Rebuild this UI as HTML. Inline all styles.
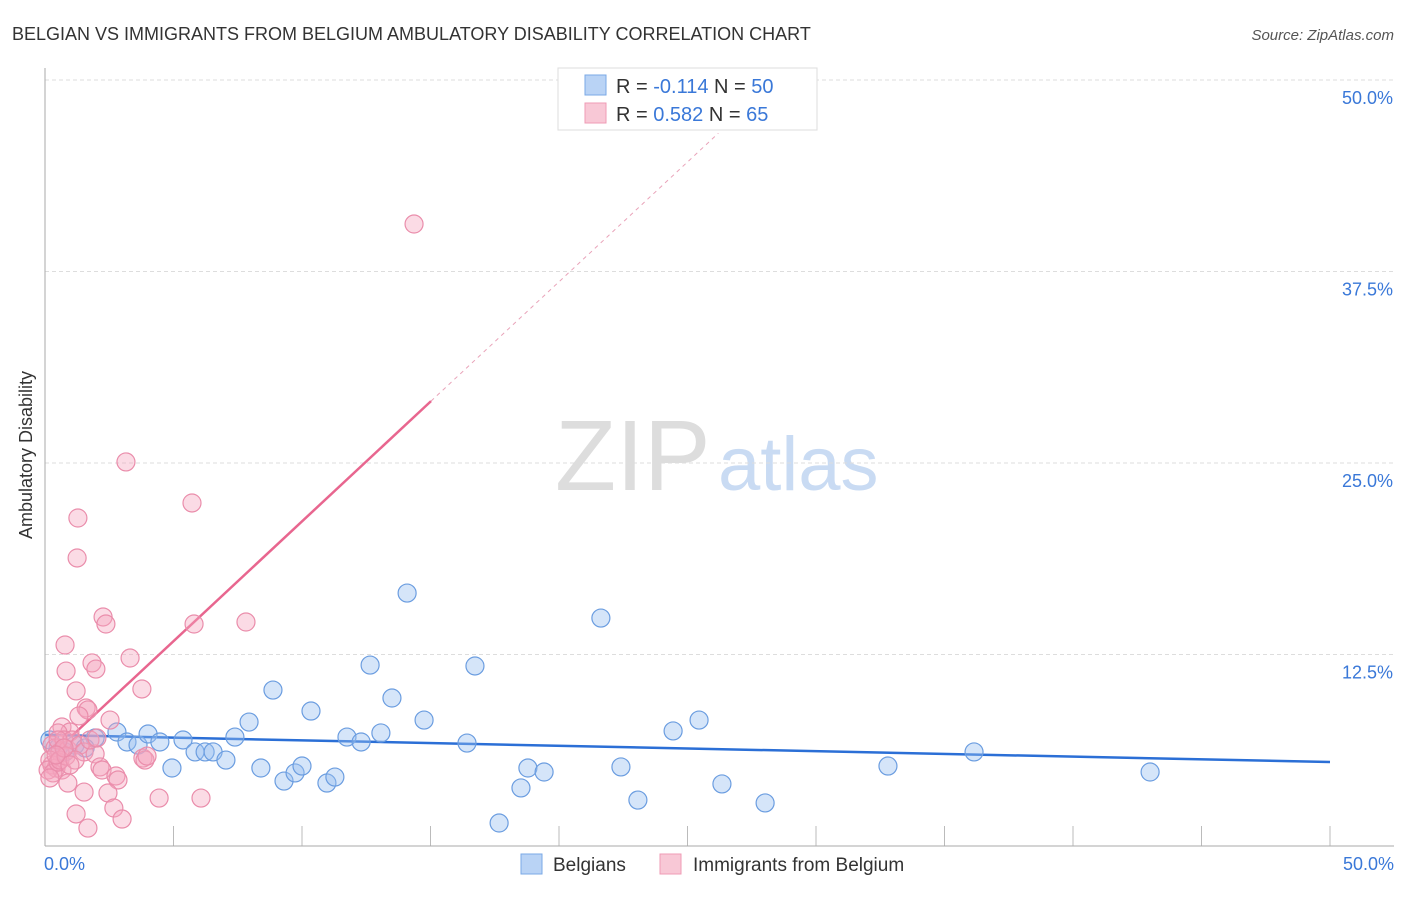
<!DOCTYPE html>
<html><head><meta charset="utf-8"><style>
body{margin:0;background:#fff;font-family:"Liberation Sans",sans-serif}
svg text{font-family:"Liberation Sans",sans-serif}
</style></head><body>
<svg width="1406" height="892" xmlns="http://www.w3.org/2000/svg">
<text x="12" y="40" font-size="18" fill="#333">BELGIAN VS IMMIGRANTS FROM BELGIUM AMBULATORY DISABILITY CORRELATION CHART</text>
<text x="1394" y="40" font-size="15" fill="#555" font-style="italic" text-anchor="end">Source: ZipAtlas.com</text>
<text x="555" y="490" font-size="100" fill="#ddd" font-family="Liberation Serif, serif">ZIP</text>
<text x="718" y="490" font-size="76" fill="#c9dbf3">atlas</text>
<g id="grid"></g>
<line x1="45" y1="68" x2="45" y2="846" stroke="#aaa"/>
<line x1="45" y1="846" x2="1394" y2="846" stroke="#aaa"/>
<text x="32" y="455" font-size="18" fill="#333" transform="rotate(-90 32 455)" text-anchor="middle">Ambulatory Disability</text>
<text x="44" y="870" font-size="18" fill="#3a78d8">0.0%</text>
<text x="1394" y="870" font-size="18" fill="#3a78d8" text-anchor="end">50.0%</text>
<g id="lines"></g>
<g id="pts"></g>
<g>
<rect x="558" y="68" width="259" height="62" fill="#fff" stroke="#ddd"/>
<rect x="585" y="75" width="21" height="20" fill="#b9d3f5" stroke="#7aa8e6"/>
<text x="616" y="93" font-size="20" fill="#333">R = <tspan fill="#3a78d8">-0.114</tspan>   N = <tspan fill="#3a78d8">50</tspan></text>
<rect x="585" y="103" width="21" height="20" fill="#f8c8d6" stroke="#ef9bb5"/>
<text x="616" y="121" font-size="20" fill="#333">R =  <tspan fill="#3a78d8">0.582</tspan>   N =  <tspan fill="#3a78d8">65</tspan></text>
</g>
<g>
<rect x="521" y="854" width="21" height="20" fill="#b9d3f5" stroke="#7aa8e6"/>
<text x="553" y="871" font-size="19" fill="#333">Belgians</text>
<rect x="660" y="854" width="21" height="20" fill="#f8c8d6" stroke="#ef9bb5"/>
<text x="693" y="871" font-size="19" fill="#333">Immigrants from Belgium</text>
</g>
</svg>
<script>
const yTicks=[12.5,25,37.5,50];
const yTickLabels=["12.5%","25.0%","37.5%","50.0%"];
const blueX=[0.19,1.95,2.80,3.19,3.62,4.01,4.47,4.94,5.37,5.84,6.23,6.54,7.04,7.39,7.94,8.40,8.87,9.30,9.73,10.00,10.35,10.97,11.28,11.75,12.30,12.65,13.07,13.50,14.09,14.75,16.42,16.73,17.67,18.52,18.79,19.42,21.63,22.41,23.07,24.44,25.45,26.34,28.02,32.80,36.15,43.00,0.51,1.17,0.78,1.56];
const blueY=[6.92,7.05,7.44,6.79,6.59,7.31,6.79,5.09,6.92,6.14,6.14,6.14,5.61,7.11,8.09,5.09,10.18,4.24,4.77,5.22,8.81,4.11,4.50,7.11,6.79,11.81,7.38,9.66,16.51,8.22,6.72,11.75,1.50,3.79,5.09,4.83,14.88,5.16,3.00,7.51,8.22,4.05,2.81,5.22,6.14,4.83,6.40,6.59,6.14,6.40];
const pinkX=[14.36,3.15,5.72,1.28,1.25,2.26,2.37,5.80,7.82,0.78,1.83,1.98,3.31,0.82,1.21,3.77,1.60,1.67,2.53,1.32,0.66,0.97,0.51,0.27,0.39,0.58,0.74,0.89,1.05,1.36,1.52,1.95,0.27,0.43,0.66,0.19,0.12,0.31,0.51,2.14,2.22,2.76,2.84,3.81,3.89,3.97,0.89,1.52,2.45,2.68,4.44,6.07,1.21,1.67,3.00,0.58,0.82,1.17,0.97,1.75,0.51,0.74,2.02,0.19,0.43];
const pinkY=[40.60,25.07,22.39,21.41,18.80,14.95,14.49,14.49,14.62,13.12,11.95,11.55,12.27,11.42,10.12,10.25,9.01,8.88,8.22,8.49,7.77,7.44,7.38,6.59,6.40,6.14,6.92,6.27,6.92,6.59,6.14,6.01,5.29,5.09,4.96,5.61,4.96,4.77,5.48,5.16,4.96,4.57,4.31,5.74,5.61,5.87,4.11,3.52,3.46,2.48,3.13,3.13,2.09,1.17,1.76,5.61,5.87,5.61,5.29,6.92,6.92,6.40,7.05,4.44,5.94];
const blueTrend=[7.25,5.48];
const pinkTrend=[5.55,29.04];
const NS="http://www.w3.org/2000/svg";
function X(v){return 45+v*25.7;}
function Y(v){return 846-v*15.32;}
const grid=document.getElementById('grid');
yTicks.forEach((t,i)=>{
 const l=document.createElementNS(NS,'line');
 l.setAttribute('x1',45);l.setAttribute('x2',1394);l.setAttribute('y1',Y(t));l.setAttribute('y2',Y(t));
 l.setAttribute('stroke','#ddd');l.setAttribute('stroke-dasharray','4,3');
 
 
 grid.appendChild(l);
 const tx=document.createElementNS(NS,'text');
 tx.setAttribute('x',1393);tx.setAttribute('y',Y(t)+24);tx.setAttribute('font-size','18');
 tx.setAttribute('fill','#3a78d8');tx.setAttribute('text-anchor','end');tx.textContent=yTickLabels[i];
 
 
 grid.appendChild(tx);
});
for(let i=1;i<=10;i++){
 const l=document.createElementNS(NS,'line');
 const x=X(i*5);
 l.setAttribute('x1',x);l.setAttribute('x2',x);l.setAttribute('y1',826);l.setAttribute('y2',846);
 l.setAttribute('stroke','#bbb');
 
 
 grid.appendChild(l);
}
const lines=document.getElementById('lines');
function seg(x1,y1,x2,y2,col,w,dash,name){
 const l=document.createElementNS(NS,'line');
 l.setAttribute('x1',X(x1));l.setAttribute('y1',Y(y1));l.setAttribute('x2',X(x2));l.setAttribute('y2',Y(y2));
 l.setAttribute('stroke',col);l.setAttribute('stroke-width',w);if(dash)l.setAttribute('stroke-dasharray',dash);
 
 
 lines.appendChild(l);
}
const ps=(pinkTrend[1]-pinkTrend[0])/15.02;
const pt=x=>pinkTrend[0]+ps*x;
seg(15.02,pt(15.02),26.2,pt(26.2),'#e9a3b9',1,'4,4','pink-trend-extension');
const pts=document.getElementById('pts');
function dots(xs,ys,fill,stroke,name){
 xs.forEach((x,i)=>{
  const c=document.createElementNS(NS,'circle');
  c.setAttribute('cx',X(x));c.setAttribute('cy',Y(ys[i]));c.setAttribute('r',9);
  c.setAttribute('fill',fill);c.setAttribute('stroke',stroke);c.setAttribute('stroke-width',1.2);
  
  
  pts.appendChild(c);
 });
}
dots(blueX,blueY,'rgba(150,190,240,0.4)','#6b9de0','belgian-point');
dots(pinkX,pinkY,'rgba(245,165,190,0.4)','#ea8dab','immigrant-point');
seg(0,blueTrend[0],50,blueTrend[1],'#2b6fd6',2.5,null,'belgian-trend-line');
seg(1.0,pt(1.0),15.02,pt(15.02),'#e8668f',2.5,null,'pink-trend-line');
</script>
</body></html>
